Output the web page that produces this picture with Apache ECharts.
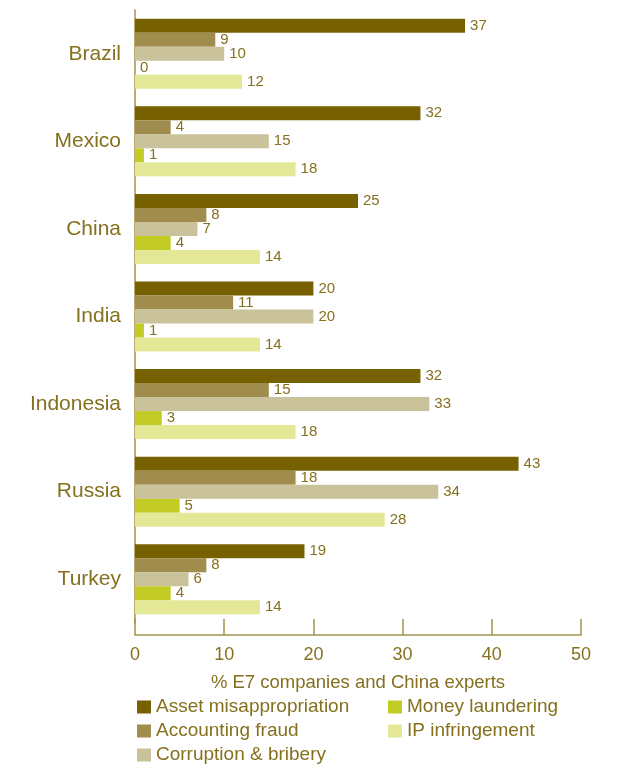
<!DOCTYPE html>
<html>
<head>
<meta charset="utf-8">
<script src="https://cdn.jsdelivr.net/npm/echarts@6/dist/echarts.min.js"></script>
<style>html,body{margin:0;padding:0;background:#fff}#c{width:628px;height:764px}</style>
</head>
<body>
<div id="c"></div>
<script>
var categories = ['Brazil', 'Mexico', 'China', 'India', 'Indonesia', 'Russia', 'Turkey'];
var seriesNames = ['Asset misappropriation', 'Accounting fraud', 'Corruption & bribery', 'Money laundering', 'IP infringement'];
var assetMisappropriation = [37, 32, 25, 20, 32, 43, 19];
var accountingFraud = [9, 4, 8, 11, 15, 18, 8];
var corruptionBribery = [10, 15, 7, 20, 33, 34, 6];
var moneyLaundering = [0, 1, 4, 1, 3, 5, 4];
var ipInfringement = [12, 18, 14, 14, 18, 28, 14];
var xTicks = [0, 10, 20, 30, 40, 50];

var colors = ['#776000', '#a08c4c', '#c9c29a', '#c3cc24', '#e3e896'];
var textColor = '#85701e';
var lineColor = '#a3924f';
var font = 'Liberation Sans, Arial, Helvetica, sans-serif';
var values = [assetMisappropriation, accountingFraud, corruptionBribery, moneyLaundering, ipInfringement];

var chart = echarts.init(document.getElementById('c'), null, {renderer: 'canvas'});
var series = seriesNames.map(function (n, i) {
  return {
    name: n, type: 'bar', data: values[i], barWidth: 14, barGap: '0%',
    itemStyle: {color: colors[i]},
    label: {show: true, position: 'right', distance: 5, color: textColor, fontSize: 15, fontFamily: font},
    animation: false
  };
});
var legendBase = {
  orient: 'vertical', top: 697, height: 80, padding: 0, itemWidth: 14, itemHeight: 13, itemGap: 4,
  icon: 'rect',
  textStyle: {color: textColor, fontSize: 19, lineHeight: 20, fontFamily: font}
};
chart.setOption({
  animation: false,
  textStyle: {fontFamily: font},
  grid: {left: 135, right: 47, top: 10, bottom: 141, containLabel: false},
  xAxis: {
    type: 'value', min: xTicks[0], max: xTicks[xTicks.length - 1], interval: 10,
    offset: 12,
    name: '% E7 companies and China experts', nameLocation: 'middle', nameGap: 38,
    nameTextStyle: {color: textColor, fontSize: 18.5, fontFamily: font},
    axisLine: {show: true, lineStyle: {color: lineColor, width: 1.5}},
    axisTick: {show: true, inside: true, length: 16, lineStyle: {color: lineColor, width: 1.5}},
    axisLabel: {color: textColor, fontSize: 18, margin: 11, fontFamily: font},
    splitLine: {show: false}
  },
  yAxis: {
    type: 'category', data: categories, inverse: true,
    axisLine: {show: true, lineStyle: {color: lineColor, width: 1.5}},
    axisTick: {show: false},
    axisLabel: {color: textColor, fontSize: 21, margin: 14, fontFamily: font}
  },
  legend: [
    Object.assign({}, legendBase, {left: 137, data: seriesNames.slice(0, 3)}),
    Object.assign({}, legendBase, {left: 388, data: seriesNames.slice(3)})
  ],
  series: series
});
</script>
</body>
</html>
